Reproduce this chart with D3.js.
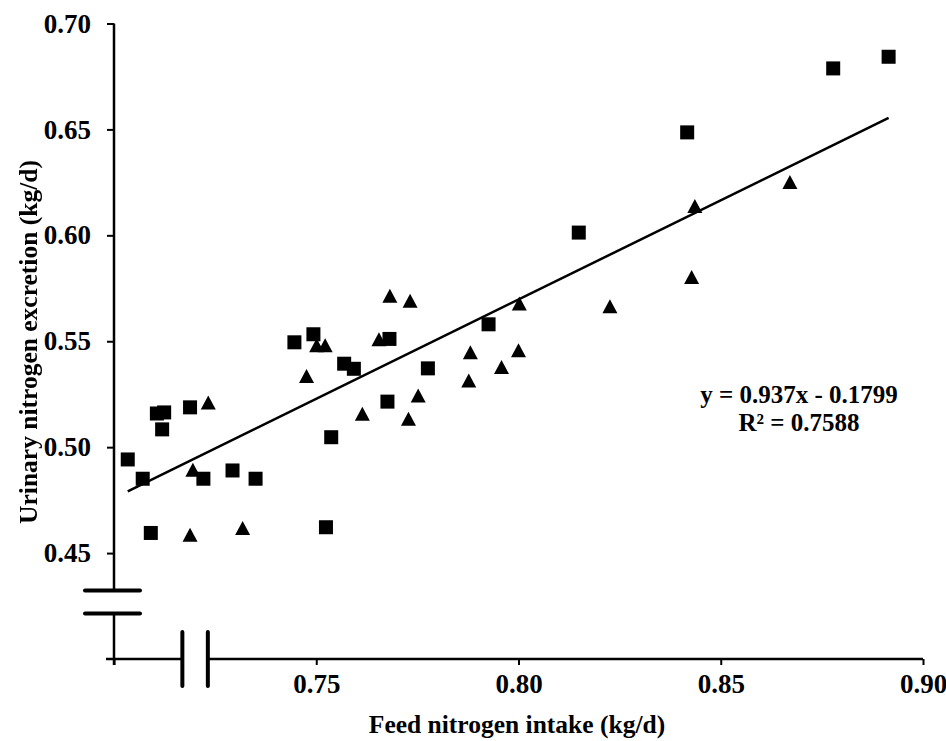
<!DOCTYPE html>
<html>
<head>
<meta charset="utf-8">
<script src="https://cdn.jsdelivr.net/npm/d3@7"></script>
<style>
  body { margin: 0; background: #fff; }
  text { font-family: 'Liberation Serif', 'Times New Roman', serif; font-weight: bold; fill: #000; }
  .y-title { filter: grayscale(1); }
</style>
</head>
<body>
<svg id="chart"></svg>
<script>
// DATA
const squareX = [0.7034, 0.7071, 0.7091, 0.7106, 0.7124, 0.7119, 0.7188, 0.7221, 0.7293, 0.7350,
  0.7446, 0.7493, 0.7537, 0.7524, 0.7569, 0.7593, 0.7681, 0.7676, 0.7776, 0.7926,
  0.8149, 0.8417, 0.8778, 0.8915]
const squareY = [0.4942, 0.4851, 0.4595, 0.5159, 0.5164, 0.5084, 0.5188, 0.4851, 0.4890, 0.4851,
  0.5495, 0.5533, 0.5047, 0.4622, 0.5394, 0.5370, 0.5511, 0.5215, 0.5372, 0.5580,
  0.6013, 0.6486, 0.6788, 0.6843]

const triangleX = [0.7233, 0.7195, 0.7188, 0.7318, 0.7476, 0.7501, 0.7522, 0.7614, 0.7655, 0.7682,
  0.7732, 0.7728, 0.7752, 0.7881, 0.7877, 0.7958, 0.8000, 0.8002, 0.8226, 0.8428,
  0.8436, 0.8671]
const triangleY = [0.5211, 0.4893, 0.4586, 0.4619, 0.5336, 0.5481, 0.5481, 0.5158, 0.5509, 0.5715,
  0.5691, 0.5134, 0.5244, 0.5448, 0.5315, 0.5378, 0.5457, 0.5678, 0.5665, 0.5803,
  0.6138, 0.6252]

const slope = 0.937
const intercept = -0.1799
const rSquared = '0.7588'

const xTicks = [0.75, 0.80, 0.85, 0.90]
const yTicks = [0.45, 0.50, 0.55, 0.60, 0.65, 0.70]
const xDomain = [0.70, 0.90]
const yDomain = [0.40, 0.70]
// axis break marks (data units)
const xBreaks = [0.7169, 0.7232]
const yBreaks = [0.4323, 0.4215]

const xTitle = 'Feed nitrogen intake (kg/d)'
const yTitle = 'Urinary nitrogen excretion (kg/d)'

// SIZE
const totalWidth = 946, totalHeight = 741
const svg = d3.select('#chart')
  .attr('width', totalWidth)
  .attr('height', totalHeight)

// SCALES
const x = d3.scaleLinear().domain(xDomain).range([114, 923])
const y = d3.scaleLinear().domain(yDomain).range([659, 23.5])

// AXES (ticks and labels from d3, domain line drawn by hand with breaks)
const xAxis = d3.axisBottom(x)
  .tickValues([xDomain[0]].concat(xTicks))
  .tickFormat(d => d === xDomain[0] ? '' : d3.format('.2f')(d))
  .tickSize(6)
  .tickPadding(12)
const gx = svg.append('g')
  .attr('transform', `translate(0, ${y(yDomain[0])})`)
  .call(xAxis)
gx.select('.domain').remove()
gx.selectAll('.tick line').attr('stroke', '#000').attr('stroke-width', 2)
gx.selectAll('.tick text').attr('font-size', 27).attr('dy', '0.6em')

const yAxis = d3.axisLeft(y)
  .tickValues(yTicks)
  .tickFormat(d3.format('.2f'))
  .tickSize(7)
  .tickPadding(16)
const gy = svg.append('g')
  .attr('transform', `translate(${x(xDomain[0])}, 0)`)
  .call(yAxis)
gy.select('.domain').remove()
gy.selectAll('.tick line').attr('stroke', '#000').attr('stroke-width', 2)
gy.selectAll('.tick text').attr('font-size', 27)

// AXIS LINES WITH BREAKS
const axisLines = svg.append('g')
  .attr('stroke', '#000')
  .attr('stroke-width', 2.5)
  .attr('fill', 'none')

const x0 = x(xDomain[0]), y0 = y(yDomain[0])
// y axis: top part, bottom part
axisLines.append('line')
  .attr('x1', x0).attr('x2', x0)
  .attr('y1', y(yDomain[1])).attr('y2', y(yBreaks[0]))
axisLines.append('line')
  .attr('x1', x0).attr('x2', x0)
  .attr('y1', y(yBreaks[1])).attr('y2', y0 + 6)
// x axis: left part, right part
axisLines.append('line')
  .attr('x1', x0 - 8).attr('x2', x(xBreaks[0]))
  .attr('y1', y0).attr('y2', y0)
axisLines.append('line')
  .attr('x1', x(xBreaks[1])).attr('x2', x(xDomain[1]))
  .attr('y1', y0).attr('y2', y0)

// break marks
const breakMarks = svg.append('g')
  .attr('stroke', '#000')
  .attr('stroke-width', 4)
  .attr('stroke-linecap', 'round')
yBreaks.forEach(v => {
  breakMarks.append('line')
    .attr('x1', x0 - 29).attr('x2', x0 + 26)
    .attr('y1', y(v)).attr('y2', y(v))
})
xBreaks.forEach(v => {
  breakMarks.append('line')
    .attr('x1', x(v)).attr('x2', x(v))
    .attr('y1', y0 - 27).attr('y2', y0 + 27)
})

// AXIS TITLES
svg.append('text')
  .attr('x', 517)
  .attr('y', 733)
  .attr('text-anchor', 'middle')
  .attr('font-size', 25.5)
  .text(xTitle)

svg.append('text')
  .attr('class', 'y-title')
  .attr('transform', `translate(37, 342) rotate(-90)`)
  .attr('text-anchor', 'middle')
  .attr('font-size', 25.5)
  .text(yTitle)

// TREND LINE
const allX = squareX.concat(triangleX)
const [xMin, xMax] = d3.extent(allX)
svg.append('path')
  .datum([xMin, xMax])
  .attr('fill', 'none')
  .attr('stroke', '#000')
  .attr('stroke-width', 2.5)
  .attr('d', d3.line()
    .x(d => x(d))
    .y(d => y(slope * d + intercept)))

// POINTS
const squares = squareX.map((v, i) => ({ x: v, y: squareY[i] }))
const triangles = triangleX.map((v, i) => ({ x: v, y: triangleY[i] }))

const side = 14
svg.append('g')
  .selectAll('rect')
  .data(squares)
  .enter()
  .append('rect')
    .attr('x', d => x(d.x) - side / 2)
    .attr('y', d => y(d.y) - side / 2)
    .attr('width', side)
    .attr('height', side)
    .attr('fill', '#000')

const tw = 15, th = 14
svg.append('g')
  .selectAll('path')
  .data(triangles)
  .enter()
  .append('path')
    .attr('transform', d => `translate(${x(d.x)}, ${y(d.y)})`)
    .attr('d', `M0,${-th / 2}L${tw / 2},${th / 2}L${-tw / 2},${th / 2}Z`)
    .attr('fill', '#000')

// EQUATION
const eq = svg.append('text')
  .attr('text-anchor', 'middle')
  .attr('font-size', 25)
eq.append('tspan')
  .attr('x', 799).attr('y', 403)
  .text(`y = ${slope}x - ${Math.abs(intercept)}`)
eq.append('tspan')
  .attr('x', 799).attr('y', 431)
  .text(`R² = ${rSquared}`)
</script>
</body>
</html>
